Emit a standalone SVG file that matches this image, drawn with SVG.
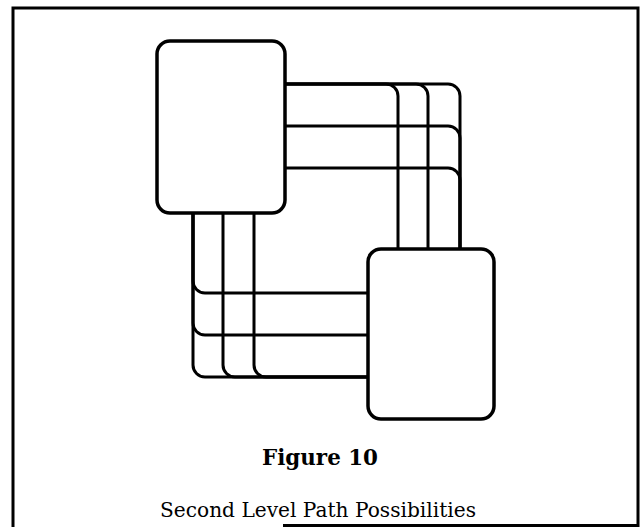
<svg xmlns="http://www.w3.org/2000/svg" width="644" height="527" viewBox="0 0 644 527">
  <style>
    .frame { fill: none; stroke: #000; stroke-width: 3; }
    .box { fill: #fff; stroke: #000; stroke-width: 3.5; }
    .wire { fill: none; stroke: #000; stroke-width: 3; }
    .title { font-family: "DejaVu Serif", "Liberation Serif", serif; font-weight: bold; font-size: 22px; fill: #000; }
    .caption { font-family: "DejaVu Serif", "Liberation Serif", serif; font-size: 21px; fill: #000; }
  </style>
  <rect width="644" height="527" fill="#fff"/>

  <!-- outer frame; the lower edge only shows on the right -->
  <path class="frame" d="M13,527 V8 H638 V527"/>
  <line class="frame" x1="283" y1="525.5" x2="638" y2="525.5"/>

  <!-- connectors between the two modules -->
  <g id="connectors">
    <!-- from right side of upper module to top of lower module -->
    <path class="wire" d="M285,84 H386 A12,12 0 0 1 398,96 V249"/>
    <path class="wire" d="M285,84 H416 A12,12 0 0 1 428,96 V249"/>
    <path class="wire" d="M285,84 H448 A12,12 0 0 1 460,96 V249"/>
    <path class="wire" d="M285,126 H448 A12,12 0 0 1 460,138 V249"/>
    <path class="wire" d="M285,168 H448 A12,12 0 0 1 460,180 V249"/>
    <!-- from bottom of upper module to left side of lower module -->
    <path class="wire" d="M193,213 V281 A12,12 0 0 0 205,293 H368"/>
    <path class="wire" d="M193,213 V323 A12,12 0 0 0 205,335 H368"/>
    <path class="wire" d="M193,213 V365 A12,12 0 0 0 205,377 H368"/>
    <path class="wire" d="M223,213 V365 A12,12 0 0 0 235,377 H368"/>
    <path class="wire" d="M254,213 V365 A12,12 0 0 0 266,377 H368"/>
  </g>

  <g id="module-a">
    <rect class="box" x="157" y="41" width="128" height="172" rx="13"/>
  </g>
  <g id="module-b">
    <rect class="box" x="368" y="249" width="126" height="170" rx="13"/>
  </g>

  <g id="caption">
    <text class="title" x="320" y="465" text-anchor="middle" textLength="116" lengthAdjust="spacingAndGlyphs">Figure 10</text>
    <text class="caption" x="318" y="517" text-anchor="middle" textLength="316" lengthAdjust="spacingAndGlyphs">Second Level Path Possibilities</text>
  </g>
</svg>
